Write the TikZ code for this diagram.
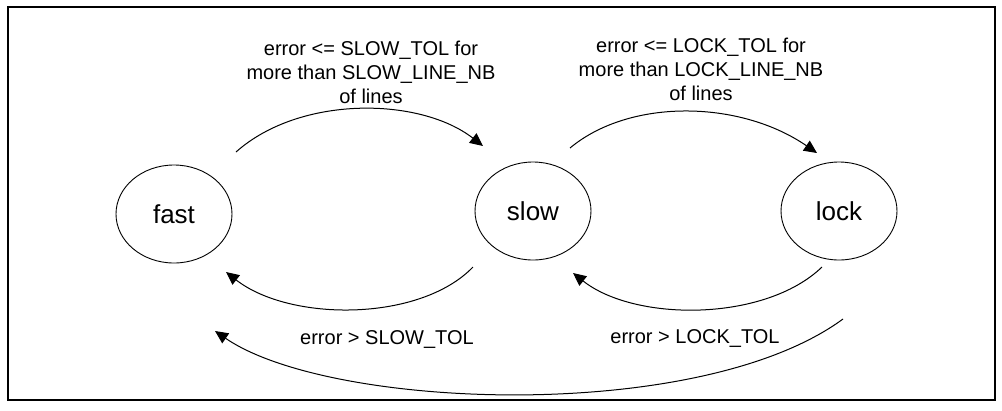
\documentclass[tikz,border=0pt]{standalone}
\usepackage{fontspec}
\setmainfont{Liberation Sans}
\usetikzlibrary{arrows.meta,shapes.geometric}
\begin{document}
\begin{tikzpicture}[x=1bp,y=-1bp,
  state/.style={draw,ellipse,line width=0.9bp,minimum width=116bp,minimum height=98bp,inner sep=0pt,font=\fontsize{26bp}{30bp}\selectfont},
  lbl/.style={align=center,font=\fontsize{20bp}{24bp}\selectfont,inner sep=0pt},
  conn/.style={line width=1bp,-{Triangle[length=13bp,width=12bp]}}]
\useasboundingbox (0,0) rectangle (1002,410);
\draw[line width=2bp] (8,7) rectangle (995,400);
% states
\node[state] (fast) at (174,214) {fast};
\node[state] (slow) at (533,211) {slow};
\node[state] (lock) at (839,211) {lock};
% connector end points
\coordinate (a0) at (236,152);
\coordinate (a1) at (483,146);
\coordinate (b0) at (570,148);
\coordinate (b1) at (817,153);
\coordinate (c0) at (473,267);
\coordinate (c1) at (226,272);
\coordinate (d0) at (822,267);
\coordinate (d1) at (573,273);
\coordinate (e0) at (843,319);
\coordinate (e1) at (215,331);
% connectors
\draw[conn] (a0) .. controls (300,95) and (420,97) .. (a1);
\draw[conn] (b0) .. controls (630,98) and (740,100) .. (b1);
\draw[conn] (c0) .. controls (420,322) and (290,322) .. (c1);
\draw[conn] (d0) .. controls (765,322) and (635,322) .. (d1);
\draw[conn] (e0) .. controls (700,424) and (330,410) .. (e1);
% labels
\node[lbl] (la) at (371,72) {error <= SLOW\_TOL for\\more than SLOW\_LINE\_NB\\of lines};
\node[lbl] (lb) at (701,69) {error <= LOCK\_TOL for\\more than LOCK\_LINE\_NB\\of lines};
\node[lbl] (lc) at (387,339) {error > SLOW\_TOL};
\node[lbl] (ld) at (695,338) {error > LOCK\_TOL};
\end{tikzpicture}
\end{document}
